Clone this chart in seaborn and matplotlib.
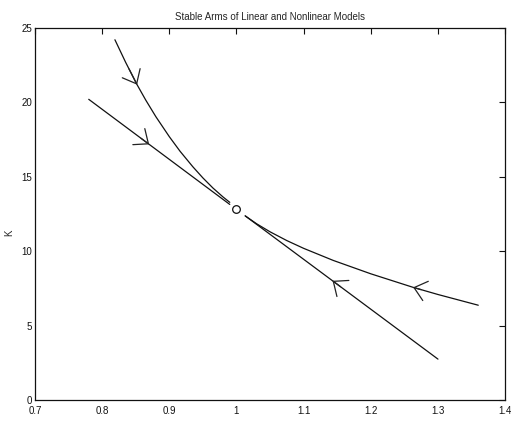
import numpy as np
import pandas as pd
import matplotlib
matplotlib.use('Agg')
import matplotlib.pyplot as plt
import seaborn as sns

# Values
ss_x, ss_k = 1.0, 12.8

# linear stable arm (straight line through the steady state)
lin_left_x = [0.78, 0.99]
lin_left_k = [20.2, 13.14]
lin_right_x = [1.013, 1.30]
lin_right_k = [12.37, 2.75]

# nonlinear stable arm
nl_left_x = [0.819, 0.835, 0.852, 0.865, 0.88, 0.90, 0.916, 0.935, 0.95, 0.965, 0.98, 0.99]
nl_left_k = [24.2, 22.68, 21.18, 20.14, 19.03, 17.69, 16.71, 15.67, 14.92, 14.24, 13.64, 13.28]
nl_right_x = [1.013, 1.03, 1.05, 1.075, 1.10, 1.144, 1.20, 1.263, 1.30, 1.36]
nl_right_k = [12.37, 11.84, 11.30, 10.71, 10.19, 9.38, 8.48, 7.57, 7.09, 6.37]

# arrow tips (pointing toward the steady state)
arrow_x = [0.852, 0.87, 1.143, 1.263]
arrow_arm = ['nl_left', 'lin_left', 'lin_right', 'nl_right']

xticks = [0.7, 0.8, 0.9, 1.0, 1.1, 1.2, 1.3, 1.4]
xtick_labels = ['0.7', '0.8', '0.9', '1', '1.1', '1.2', '1.3', '1.4']
yticks = [0, 5, 10, 15, 20, 25]

arms = {
    'lin_left': (lin_left_x, lin_left_k),
    'lin_right': (lin_right_x, lin_right_k),
    'nl_left': (nl_left_x, nl_left_k),
    'nl_right': (nl_right_x, nl_right_k),
}

sns.set_style('white')
plt.rcParams['font.family'] = ['Liberation Sans', 'DejaVu Sans']

fig = plt.figure(figsize=(5.11, 4.22), dpi=100)
ax = fig.add_axes([0.0685, 0.052, 0.92, 0.882])

rows = []
for name, (xs, ks) in arms.items():
    for x, k in zip(xs, ks):
        rows.append({'arm': name, 'x': x, 'k': k})
df = pd.DataFrame(rows)

for name, grp in df.groupby('arm'):
    sns.lineplot(data=grp, x='x', y='k', ax=ax, color='#111111', lw=0.9,
                 sort=False, estimator=None)

# arrowheads along each arm
for ax_x, name in zip(arrow_x, arrow_arm):
    xs, ks = arms[name]
    tip_k = np.interp(ax_x, xs, ks)
    back = -0.012 if 'left' in name else 0.012
    tail_k = np.interp(ax_x + back, xs, ks)
    ax.annotate('', xy=(ax_x, tip_k), xytext=(ax_x + back, tail_k),
                arrowprops=dict(arrowstyle='->,head_length=0.43,head_width=0.36',
                                color='#222222', lw=0.9, shrinkA=0, shrinkB=0,
                                mutation_scale=20))

ax.plot([ss_x], [ss_k], marker='o', ms=5.5, mfc='white', mec='#111111', mew=0.9)

ax.set_xlim(0.7, 1.4)
ax.set_ylim(0, 25)
ax.set_xticks(xticks)
ax.set_xticklabels(xtick_labels)
ax.set_yticks(yticks)
ax.tick_params(direction='in', length=4, width=0.8, labelsize=7,
               top=True, right=True, pad=2, colors='#111111')
ax.tick_params(axis='x', pad=4)
for s in ax.spines.values():
    s.set_visible(True)
    s.set_color('#111111')
    s.set_linewidth(0.9)
ax.set_xlabel('')
ax.set_ylabel('K', fontsize=7, labelpad=3)
ax.yaxis.set_label_coords(-0.045, 0.45)
ax.set_title('Stable Arms of Linear and Nonlinear Models', fontsize=7, pad=6)

fig.savefig('out.png', dpi=100)
